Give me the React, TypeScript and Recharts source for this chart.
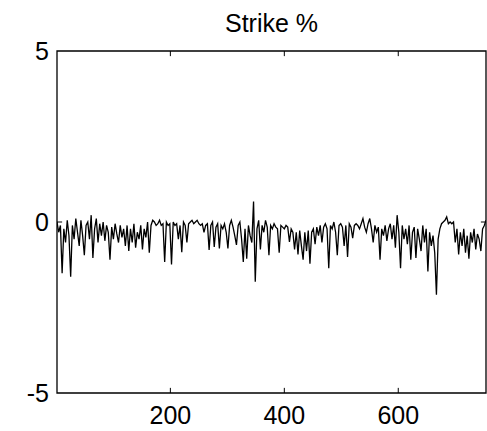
import { LineChart, Line, XAxis, YAxis, ReferenceArea, ReferenceLine } from 'recharts';

// strike % readings, one every 3 samples starting at sample 1
const strikePct = [
  0, -0.3, -0.1, -1.5, -0.2, -0.6, 0.05, -0.4, -1.6, -0.1,
  -0.5, 0.1, -0.3, -0.7, 0.05, -0.4, -0.97, -0.1, 0.0, -0.5,
  0.2, -1.05, -0.2, 0.1, -0.6, -0.05, -0.4, 0.0, -0.55, -0.1,
  -0.3, -1.1, -0.15, -0.5, -0.05, -0.35, -0.6, -0.1, -0.45, -0.2,
  -0.7, -0.1, -0.85, -0.2, -0.6, -0.05, -0.75, -0.3, -0.5, -0.1,
  -0.8, -0.2, -0.45, 0.0, -0.9, -0.1, 0.05, 0.0, -0.1, -0.05,
  0.05, -0.1, -0.05, -1.17, 0.0, -0.1, -0.05, -1.24, 0.0, -0.1,
  -0.05, -0.5, -0.1, -0.88, 0.0, -0.1, -0.6, -0.05, 0.0, 0.05,
  -0.05, 0.0, 0.05, -0.05, -0.1, -0.05, -0.3, -0.1, -0.05, -0.82,
  -0.1, 0.0, -0.73, -0.15, -0.05, -0.77, -0.1, -0.2, -0.05, -0.3,
  -0.77, -0.1, 0.05, -0.15, -0.4, -0.67, -0.1, 0.0, -0.5, -1.17,
  -0.2, -1.07, -0.1, -0.4, -0.6, 0.6, -1.75, -0.2, 0.05, -0.8,
  -0.1, -0.3, 0.05, -0.15, -0.97, -0.1, -0.2, -0.05, -0.15, -0.2,
  -0.9, -0.1, -0.15, -0.2, -0.1, -0.15, -0.58, -0.2, -0.3, -0.8,
  -0.3, -0.95, -0.25, -0.7, -1.1, -0.3, -0.85, -0.25, -1.22, -0.3,
  -0.2, -0.65, -0.15, -0.4, -0.1, -0.6, -0.15, -0.05, -0.2, -1.35,
  -0.1, -0.2, 0.0, -0.3, -0.97, -0.1, -0.05, -0.15, -0.7, -0.1,
  -1.02, -0.05, -0.15, -0.47, -0.1, -0.05, -0.1, -0.2, -0.05, 0.1,
  -0.15, -0.3, -0.05, 0.1, -0.2, -0.6, -0.1, -0.3, -0.15, -1.1,
  -0.2, -0.4, -0.1, -0.55, -0.2, -0.05, -0.5, -0.1, -0.75, 0.2,
  -0.3, -1.35, -0.1, -0.5, -0.2, -0.65, -0.1, -1.1, -0.3, -0.15,
  -1.05, -0.2, -0.5, -0.85, -0.1, -0.6, -0.2, -1.45, -0.3, -0.7,
  -0.4, -0.9, -2.13, -0.5, -0.2, -0.05, 0.0, 0.05, 0.15, -0.05,
  0.0, -0.05, 0.0, -0.6, -0.2, -0.95, -0.3, -0.7, -0.2, -0.9,
  -0.4, -1.07, -0.3, -0.6, -0.2, -0.8, -0.35, -0.5, -0.85, -0.2,
  -0.1, 0.05,
];
const sampleStart = 1;
const sampleStep = 3;

const xDomain = [1, 754];
const yDomain = [-5, 5];
const xTicks = [200, 400, 600];
const yTicks = [-5, 0, 5];

const chartData = strikePct.map((v, i) => ({ sample: sampleStart + i * sampleStep, strike: v }));

const font = '"Liberation Sans", Arial, sans-serif';
// inward tick lengths (about 5px) in data units
const xTickLen = 0.15;
const yTickLen = 9;

export default function App() {
  return (
    <div style={{ position: 'absolute', left: 0, top: 0, width: 487, height: 431, background: '#fff' }}>
      <div
        style={{
          position: 'absolute', left: 57, top: 11, width: 429, textAlign: 'center',
          fontFamily: font, fontSize: 25, lineHeight: '25px', color: '#000',
        }}
      >
        Strike %
      </div>
      <LineChart width={487} height={431} data={chartData} margin={{ top: 51, right: 1, bottom: 8, left: 17 }}>
        <XAxis
          dataKey="sample"
          type="number"
          domain={xDomain}
          ticks={xTicks}
          allowDataOverflow
          height={30}
          axisLine={false}
          tickLine={false}
          tickSize={0}
          tickMargin={13}
          tick={{ fill: '#000', fontSize: 25, fontFamily: font }}
        />
        <YAxis
          type="number"
          domain={yDomain}
          ticks={yTicks}
          allowDataOverflow
          width={40}
          axisLine={false}
          tickLine={false}
          tickSize={0}
          tickMargin={8}
          tick={{ fill: '#000', fontSize: 25, fontFamily: font }}
        />
        <ReferenceArea x1={xDomain[0]} x2={xDomain[1]} y1={yDomain[0]} y2={yDomain[1]} fill="none" stroke="#000" strokeWidth={1.3} />
        {xTicks.map((t) => (
          <ReferenceLine key={`b${t}`} segment={[{ x: t, y: yDomain[0] }, { x: t, y: yDomain[0] + xTickLen }]} stroke="#000" />
        ))}
        {xTicks.map((t) => (
          <ReferenceLine key={`t${t}`} segment={[{ x: t, y: yDomain[1] }, { x: t, y: yDomain[1] - xTickLen }]} stroke="#000" />
        ))}
        {yTicks.slice(1, -1).map((t) => (
          <ReferenceLine key={`l${t}`} segment={[{ x: xDomain[0], y: t }, { x: xDomain[0] + yTickLen, y: t }]} stroke="#000" />
        ))}
        {yTicks.slice(1, -1).map((t) => (
          <ReferenceLine key={`r${t}`} segment={[{ x: xDomain[1], y: t }, { x: xDomain[1] - yTickLen, y: t }]} stroke="#000" />
        ))}
        <Line dataKey="strike" stroke="#000" strokeWidth={1.3} dot={false} isAnimationActive={false} />
      </LineChart>
    </div>
  );
}
